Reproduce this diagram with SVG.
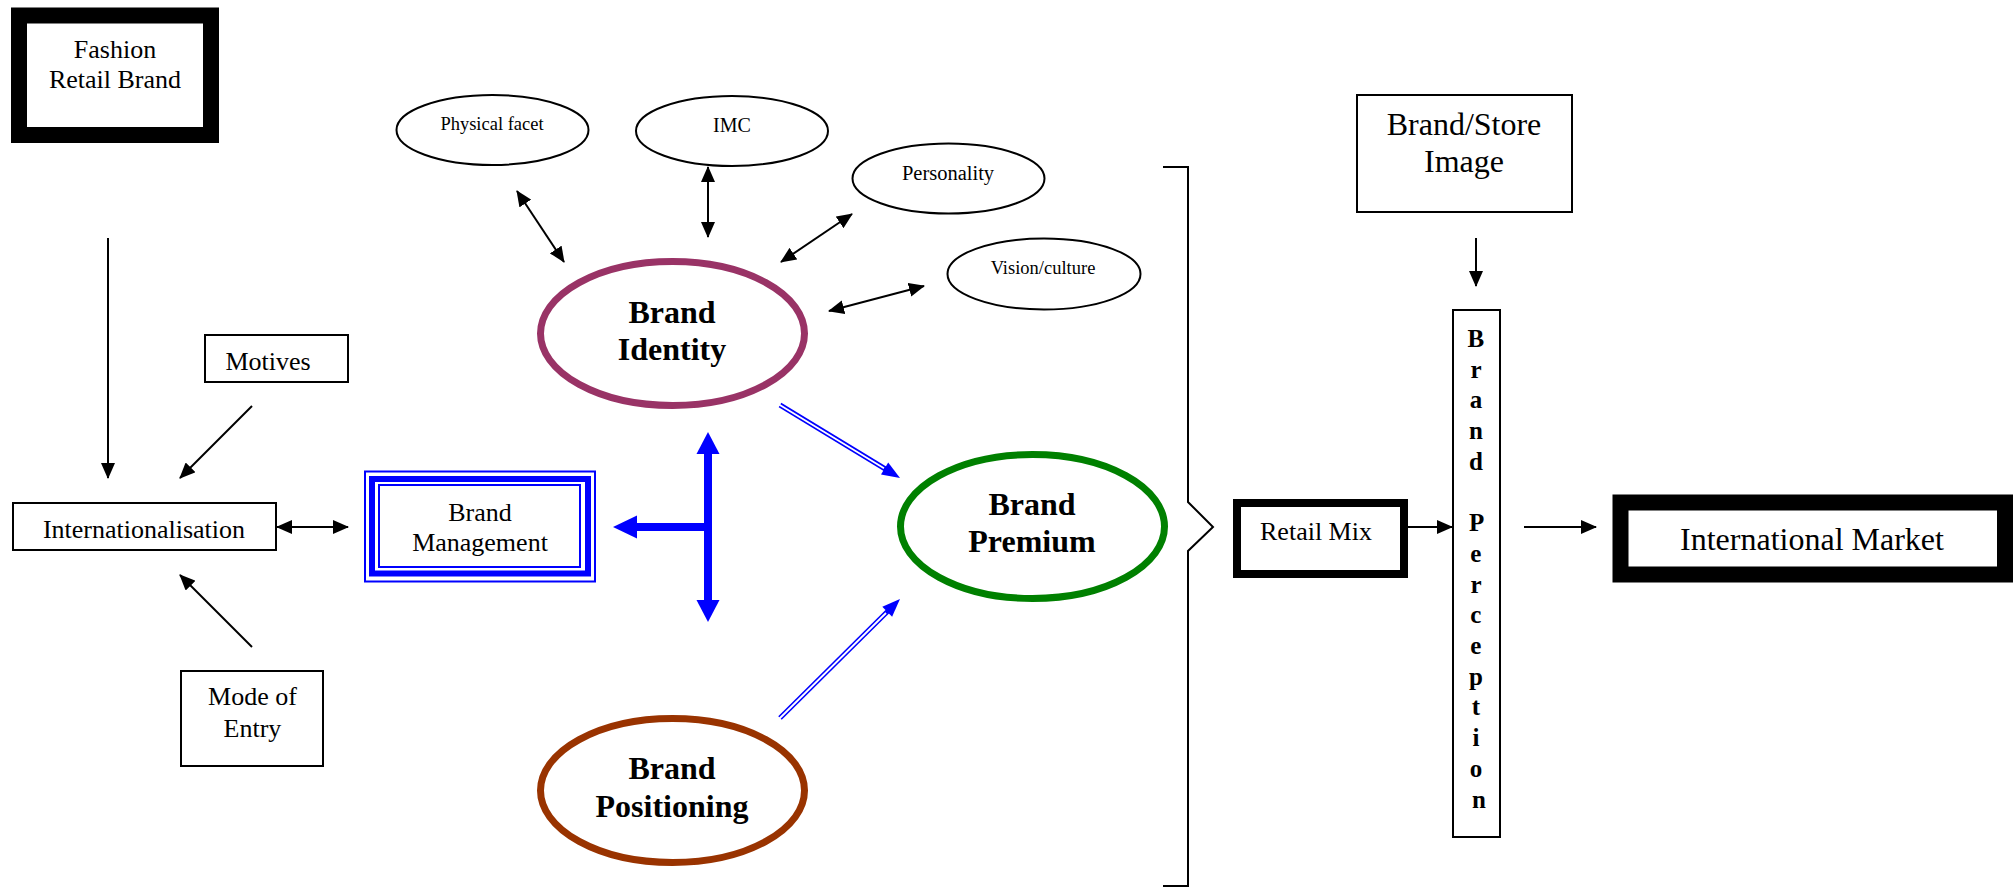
<svg xmlns="http://www.w3.org/2000/svg" width="2015" height="888" viewBox="0 0 2015 888">
<style>
text{font-family:"Liberation Serif","Times New Roman",serif;fill:#000;text-anchor:middle}
.t26{font-size:26px}
.t32{font-size:32px}
.b32{font-size:32px;font-weight:bold}
.box{fill:#fff;stroke:#000;stroke-width:2}
.sm{fill:#fff;stroke:#000;stroke-width:2}
.con{stroke:#000;stroke-width:2;fill:none}
.blue{stroke:#0000ff;fill:none}
</style>
<defs>
<marker id="ah" viewBox="0 0 16 14" refX="15" refY="7" markerWidth="16" markerHeight="14" markerUnits="userSpaceOnUse" orient="auto-start-reverse">
<path d="M0,0 L16,7 L0,14 z" fill="#000"/>
</marker>
</defs>
<rect width="2015" height="888" fill="#fff"/>

<g id="fashion">
<rect x="19" y="15.5" width="192" height="119.5" fill="#fff" stroke="#000" stroke-width="16"/>
<text class="t26" x="115" y="58">Fashion</text>
<text class="t26" x="115" y="88">Retail Brand</text>
</g>

<g id="motives">
<rect class="box" x="205" y="335" width="143" height="47"/>
<text class="t26" x="268" y="370">Motives</text>
</g>

<g id="internationalisation">
<rect class="box" x="13" y="503" width="263" height="47"/>
<text class="t26" x="144" y="538">Internationalisation</text>
</g>

<g id="mode-of-entry">
<rect class="box" x="181" y="671" width="142" height="95"/>
<text class="t26" x="252.5" y="705">Mode of</text>
<text class="t26" x="252.5" y="737">Entry</text>
</g>

<g id="brand-management">
<rect x="365" y="471.5" width="230" height="110" fill="#fff" stroke="#0000ff" stroke-width="2"/>
<rect x="372" y="479" width="216" height="94.5" fill="none" stroke="#0000ff" stroke-width="6"/>
<rect x="379" y="485" width="201" height="82" fill="none" stroke="#0000ff" stroke-width="2"/>
<text class="t26" x="480" y="521">Brand</text>
<text class="t26" x="480" y="551">Management</text>
</g>

<g id="physical-facet">
<ellipse class="sm" cx="492.5" cy="130" rx="96" ry="35"/>
<text x="492" y="130" style="font-size:18.5px">Physical facet</text>
</g>

<g id="imc">
<ellipse class="sm" cx="732" cy="131" rx="96" ry="35"/>
<text x="732" y="132" style="font-size:20px">IMC</text>
</g>

<g id="personality">
<ellipse class="sm" cx="948.5" cy="178.5" rx="96" ry="35"/>
<text x="948" y="180" style="font-size:20.5px">Personality</text>
</g>

<g id="vision-culture">
<ellipse class="sm" cx="1044" cy="274" rx="96.5" ry="35.5"/>
<text x="1043" y="274" style="font-size:18.5px">Vision/culture</text>
</g>

<g id="brand-identity">
<ellipse cx="672.5" cy="333.5" rx="132" ry="72" fill="#fff" stroke="#993366" stroke-width="7"/>
<text class="b32" x="672" y="323">Brand</text>
<text class="b32" x="672" y="360">Identity</text>
</g>

<g id="brand-premium">
<ellipse cx="1032.5" cy="526.5" rx="132" ry="72" fill="#fff" stroke="#008000" stroke-width="7"/>
<text class="b32" x="1032" y="515">Brand</text>
<text class="b32" x="1032" y="552">Premium</text>
</g>

<g id="brand-positioning">
<ellipse cx="672.5" cy="790.5" rx="132" ry="72" fill="#fff" stroke="#993300" stroke-width="7"/>
<text class="b32" x="672" y="779">Brand</text>
<text class="b32" x="672" y="817">Positioning</text>
</g>

<g id="bracket">
<path class="con" d="M1163,167 H1188 V502 L1213,527 L1188,551 V886 H1163"/>
</g>

<g id="brand-store-image">
<rect class="box" x="1357" y="95" width="215" height="117"/>
<text class="t32" x="1464" y="135">Brand/Store</text>
<text class="t32" x="1464" y="172">Image</text>
</g>

<g id="retail-mix">
<rect x="1237" y="503" width="167" height="71" fill="#fff" stroke="#000" stroke-width="8"/>
<text class="t26" x="1316" y="540">Retail Mix</text>
</g>

<g id="brand-perception">
<rect class="box" x="1453" y="310" width="47" height="527"/>
<text style="font-size:25px;font-weight:bold">
<tspan x="1479" y="347">B</tspan>
<tspan x="1479" y="377.7">r</tspan>
<tspan x="1479" y="408.4">a</tspan>
<tspan x="1479" y="439.1">n</tspan>
<tspan x="1479" y="469.8">d</tspan>
<tspan x="1479" y="531.2">P</tspan>
<tspan x="1479" y="561.9">e</tspan>
<tspan x="1479" y="592.6">r</tspan>
<tspan x="1479" y="623.3">c</tspan>
<tspan x="1479" y="654">e</tspan>
<tspan x="1479" y="684.7">p</tspan>
<tspan x="1479" y="715.4">t</tspan>
<tspan x="1479" y="746.1">i</tspan>
<tspan x="1479" y="776.8">o</tspan>
<tspan x="1479" y="807.5">n</tspan>
</text>
</g>

<g id="international-market">
<rect x="1620.5" y="502.5" width="384.5" height="72" fill="#fff" stroke="#000" stroke-width="16"/>
<text class="t32" x="1812" y="550">International Market</text>
</g>

<g id="connectors">
<line class="con" x1="108" y1="238" x2="108" y2="478" marker-end="url(#ah)"/>
<line class="con" x1="252" y1="406" x2="180" y2="478" marker-end="url(#ah)"/>
<line class="con" x1="252" y1="647" x2="180" y2="575" marker-end="url(#ah)"/>
<line class="con" x1="277" y1="527" x2="348" y2="527" marker-start="url(#ah)" marker-end="url(#ah)"/>

<line class="con" x1="517" y1="191" x2="564" y2="262" marker-start="url(#ah)" marker-end="url(#ah)"/>
<line class="con" x1="708" y1="167" x2="708" y2="237" marker-start="url(#ah)" marker-end="url(#ah)"/>
<line class="con" x1="852" y1="214" x2="781" y2="262" marker-start="url(#ah)" marker-end="url(#ah)"/>
<line class="con" x1="924" y1="286" x2="829" y2="311" marker-start="url(#ah)" marker-end="url(#ah)"/>

<line class="blue" x1="708" y1="452" x2="708" y2="602" stroke-width="8"/>
<line class="blue" x1="636" y1="527" x2="708" y2="527" stroke-width="8"/>
<polygon points="708,432 696.5,454 719.5,454" fill="#0000ff"/>
<polygon points="708,622 696.5,600 719.5,600" fill="#0000ff"/>
<polygon points="613,527 637,515.5 637,538.5" fill="#0000ff"/>

<line class="blue" x1="780" y1="405" x2="887" y2="470" stroke-width="5"/>
<line x1="779" y1="404.4" x2="884" y2="468.2" stroke="#fff" stroke-width="1.8"/>
<polygon points="900,478 881,474.6 888.2,462.6" fill="#0000ff"/>

<line class="blue" x1="780" y1="718" x2="889" y2="610" stroke-width="5"/>
<line x1="779" y1="719" x2="886" y2="613" stroke="#fff" stroke-width="1.8"/>
<polygon points="900,599 892.1,616.7 882.3,606.7" fill="#0000ff"/>

<line class="con" x1="1476" y1="238" x2="1476" y2="286" marker-end="url(#ah)"/>
<line class="con" x1="1408" y1="527" x2="1452" y2="527" marker-end="url(#ah)"/>
<line class="con" x1="1524" y1="527" x2="1596" y2="527" marker-end="url(#ah)"/>
</g>
</svg>
